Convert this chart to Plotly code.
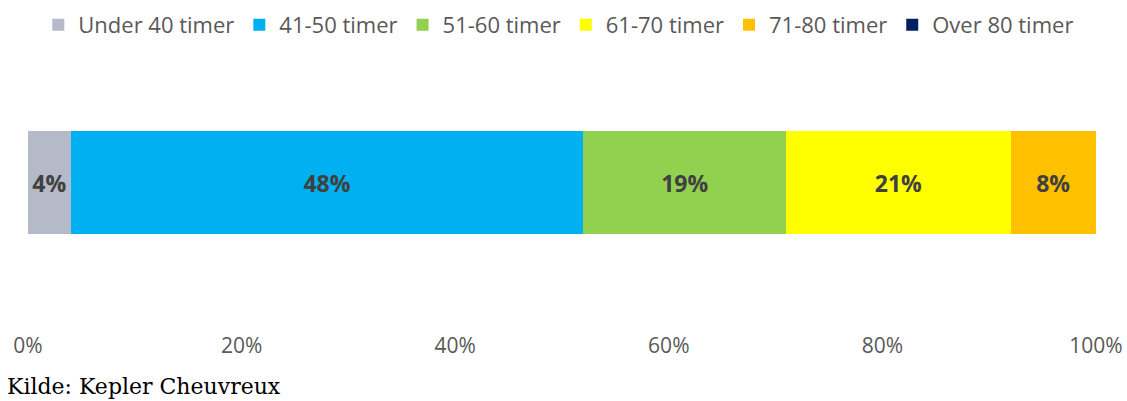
import plotly.graph_objects as go

# Working-hours distribution (share of respondents, %)
categories = ["Under 40 timer", "41-50 timer", "51-60 timer",
              "61-70 timer", "71-80 timer", "Over 80 timer"]
shares = [4, 48, 19, 21, 8, 0]
colors = ["#B4BAC8", "#00B0F0", "#92D050", "#FFFF00", "#FFC000", "#002060"]
tick_values = [0, 20, 40, 60, 80, 100]
tick_labels = ["0%", "20%", "40%", "60%", "80%", "100%"]
source_note = "Kilde: Kepler Cheuvreux"

W, H = 1127, 401
M_L, M_R, M_T, M_B = 28, 31, 34, 70
plot_w = W - M_L - M_R
plot_h = H - M_T - M_B

fig = go.Figure()
for name, value, color in zip(categories, shares, colors):
    fig.add_trace(go.Bar(
        name=name,
        x=[value],
        y=[0],
        orientation="h",
        width=0.347,
        marker=dict(color=color, line=dict(width=0)),
        text=[f"{value}%" if value > 0 else ""],
        textposition="inside",
        insidetextanchor="middle",
        textangle=0,
        textfont=dict(family="Open Sans", size=23, color="#404040", weight="bold"),
        hoverinfo="skip",
    ))

fig.update_layout(
    barmode="stack",
    width=W,
    height=H,
    margin=dict(l=M_L, r=M_R, t=M_T, b=M_B, autoexpand=False),
    paper_bgcolor="white",
    plot_bgcolor="white",
    font=dict(family="Open Sans", color="#595959"),
    legend=dict(
        orientation="h",
        xref="paper", x=0.497, xanchor="center",
        yref="container", y=1 - 25 / H, yanchor="middle",
        font=dict(family="Open Sans", size=22, color="#595959"),
        itemclick=False,
        traceorder="normal",
    ),
    xaxis=dict(
        range=[0, 100],
        tickvals=tick_values,
        ticktext=tick_labels,
        showgrid=False,
        zeroline=False,
        showline=False,
        ticks="",
        automargin=False,
        tickfont=dict(family="Open Sans", size=21, color="#595959"),
        fixedrange=True,
    ),
    yaxis=dict(
        range=[-0.5, 0.5],
        visible=False,
        automargin=False,
        fixedrange=True,
    ),
    annotations=[dict(
        text=source_note,
        xref="paper", yref="paper",
        x=-23 / plot_w, y=-55 / plot_h,
        xanchor="left", yanchor="middle",
        showarrow=False,
        font=dict(family="DejaVu Serif", size=22, color="#000000"),
    )],
)

fig.write_html("out.html")
